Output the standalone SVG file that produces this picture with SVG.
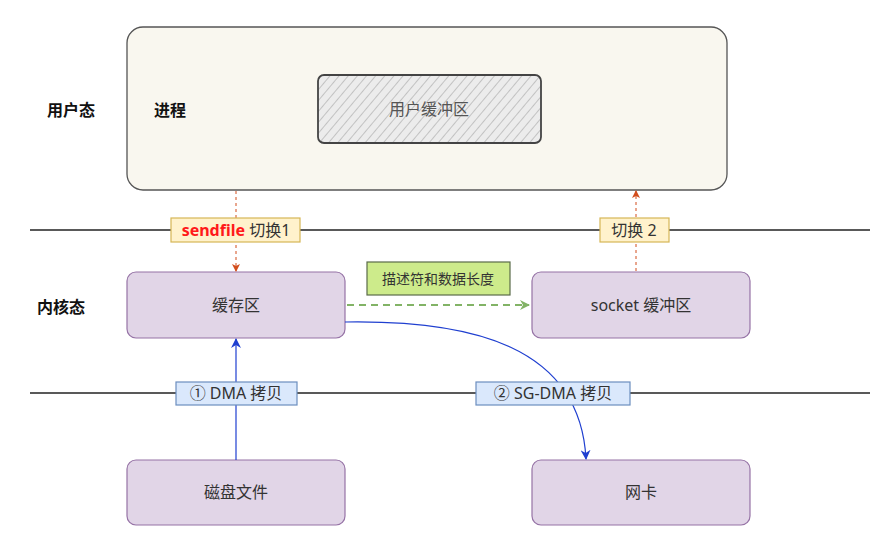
<svg xmlns="http://www.w3.org/2000/svg" width="890" height="542" viewBox="0 0 890 542">
<style>
text{font-family:"Noto Sans","Noto Sans CJK SC",sans-serif;fill:#333;}
.lbl{font-size:16px;font-weight:bold;fill:#111;}
.node{fill:#e1d5e7;stroke:#9673a6;stroke-width:1.2;}
.nt{font-size:16px;text-anchor:middle;}
.sw{fill:#fff2cc;stroke:#d6b656;stroke-width:1.2;}
.dma{fill:#dae8fc;stroke:#6c8ebf;stroke-width:1.2;}
.tag{font-size:16px;text-anchor:middle;}
.sep{stroke:#222;stroke-width:1.3;}
</style>
<defs>
<pattern id="hatch" width="7" height="7" patternUnits="userSpaceOnUse" patternTransform="rotate(40)">
<rect width="7" height="7" fill="#ececec"/>
<line x1="0" y1="0" x2="0" y2="7" stroke="#999" stroke-width="1"/>
</pattern>
<marker id="ared" markerWidth="8" markerHeight="8" refX="7" refY="4" orient="auto" markerUnits="userSpaceOnUse"><path d="M0,0 L8,4 L0,8 L2,4 z" fill="#d24d1c"/></marker>
<marker id="agreen" markerWidth="10" markerHeight="10" refX="9" refY="5" orient="auto" markerUnits="userSpaceOnUse"><path d="M0,0 L10,5 L0,10 L3,5 z" fill="#82b366"/></marker>
<marker id="ablue" markerWidth="10" markerHeight="10" refX="9" refY="5" orient="auto" markerUnits="userSpaceOnUse"><path d="M0,0 L10,5 L0,10 L3,5 z" fill="#1f3fd0"/></marker>
</defs>
<rect width="890" height="542" fill="#fff"/>
<line class="sep" x1="30" y1="230" x2="870" y2="230"/>
<line class="sep" x1="30" y1="393" x2="870" y2="393"/>
<text class="lbl" x="47" y="116">用户态</text>
<text class="lbl" x="37" y="313">内核态</text>
<g id="process">
<rect x="127" y="27" width="600" height="163" rx="16" fill="#f9f7ef" stroke="#555" stroke-width="1.3"/>
<text class="lbl" x="154" y="116">进程</text>
</g>
<g id="user-buffer">
<rect x="318" y="75" width="223" height="68" rx="6" fill="url(#hatch)" stroke="#444" stroke-width="1.8"/>
<text class="nt" x="429" y="115" style="fill:#555">用户缓冲区</text>
</g>
<g id="page-cache">
<rect class="node" x="127" y="272" width="218" height="66" rx="9"/>
<text class="nt" x="236" y="311">缓存区</text>
</g>
<g id="socket-buffer">
<rect class="node" x="532" y="272" width="218" height="66" rx="9"/>
<text class="nt" x="641" y="311">socket 缓冲区</text>
</g>
<g id="disk-file">
<rect class="node" x="127" y="460" width="218" height="65" rx="9"/>
<text class="nt" x="236" y="498">磁盘文件</text>
</g>
<g id="nic">
<rect class="node" x="532" y="460" width="218" height="65" rx="9"/>
<text class="nt" x="641" y="498">网卡</text>
</g>
<g id="connectors" fill="none">
<line x1="236" y1="191" x2="236" y2="271" stroke="#d24d1c" stroke-width="1" stroke-dasharray="3,3" marker-end="url(#ared)"/>
<line x1="636" y1="271" x2="636" y2="191" stroke="#d24d1c" stroke-width="1" stroke-dasharray="3,3" marker-end="url(#ared)"/>
<line x1="347" y1="305" x2="529" y2="305" stroke="#82b366" stroke-width="2" stroke-dasharray="7,5" marker-end="url(#agreen)"/>
<line x1="236" y1="460" x2="236" y2="339" stroke="#1f3fd0" stroke-width="1.2" marker-end="url(#ablue)"/>
<path d="M345,322 C470,320 580,345 586,459" stroke="#1f3fd0" stroke-width="1.2" marker-end="url(#ablue)"/>
</g>
<g id="label-switch1">
<rect class="sw" x="171" y="218" width="129" height="24"/>
<text class="tag" x="236" y="236"><tspan style="fill:#ff1a1a;font-weight:bold">sendfile</tspan> 切换1</text>
</g>
<g id="label-switch2">
<rect class="sw" x="600" y="218" width="69" height="24"/>
<text class="tag" x="634" y="236">切换 2</text>
</g>
<g id="label-desc">
<rect x="367" y="262" width="143" height="33" fill="#cdeb8b" stroke="#5a6b4a" stroke-width="1.2"/>
<text x="438" y="284" style="font-size:14px;text-anchor:middle">描述符和数据长度</text>
</g>
<g id="label-dma">
<rect class="dma" x="176" y="382" width="121" height="23"/>
<text class="tag" x="236" y="399">① DMA 拷贝</text>
</g>
<g id="label-sgdma">
<rect class="dma" x="476" y="382" width="154" height="23"/>
<text class="tag" x="553" y="399">② SG-DMA 拷贝</text>
</g>
</svg>
